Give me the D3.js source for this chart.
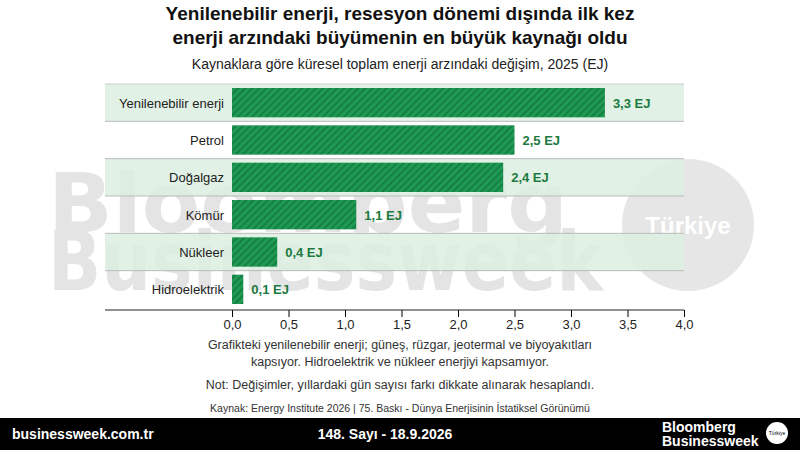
<!DOCTYPE html><html><head><meta charset="utf-8"><script src="https://cdn.jsdelivr.net/npm/d3@7"></script>
<style>body{margin:0;background:#fff}svg{font-family:"Liberation Sans",Arial,sans-serif}</style></head><body>
<svg id="c" width="800" height="450"></svg>
<script>
const categories=["Yenilenebilir enerji","Petrol","Doğalgaz","Kömür","Nükleer","Hidroelektrik"];
const values=[3.3,2.5,2.4,1.1,0.4,0.1];
const labels=["3,3 EJ","2,5 EJ","2,4 EJ","1,1 EJ","0,4 EJ","0,1 EJ"];
const ticks=[0,0.5,1,1.5,2,2.5,3,3.5,4];
const svg=d3.select("#c");
const defs=svg.append("defs");
const p=defs.append("pattern").attr("id","h").attr("patternUnits","userSpaceOnUse").attr("width",5).attr("height",5).attr("patternTransform","rotate(45)");
p.append("rect").attr("width",5).attr("height",5).attr("fill","#1f9a55");
p.append("rect").attr("width",1.6).attr("height",5).attr("fill","#137a3d");
// watermark
const wm=svg.append("g").attr("fill","#e4e4e4").attr("font-weight","bold").attr("font-size",82).attr("font-family","DejaVu Sans");
wm.append("text").attr("x",48).attr("y",232).text("Bloomberg").attr("textLength",520).attr("lengthAdjust","spacingAndGlyphs");
wm.append("text").attr("x",48).attr("y",290).text("Businessweek").attr("textLength",555).attr("lengthAdjust","spacingAndGlyphs");
wm.append("circle").attr("cx",688).attr("cy",225).attr("r",66).attr("fill","#e6e6e6");
wm.append("text").attr("x",688).attr("y",234).attr("text-anchor","middle").attr("font-size",24).attr("font-family","Liberation Sans").attr("fill","#fff").text("Türkiye");
// titles
svg.append("text").attr("x",400).attr("y",20).attr("text-anchor","middle").attr("font-weight","bold").attr("font-size",19).attr("fill","#111").text("Yenilenebilir enerji, resesyon dönemi dışında ilk kez");
svg.append("text").attr("x",400).attr("y",44).attr("text-anchor","middle").attr("font-weight","bold").attr("font-size",19).attr("fill","#111").text("enerji arzındaki büyümenin en büyük kaynağı oldu");
svg.append("text").attr("x",400).attr("y",69).attr("text-anchor","middle").attr("font-size",14).attr("fill","#222").text("Kaynaklara göre küresel toplam enerji arzındaki değişim, 2025 (EJ)");
const x=d3.scaleLinear().domain([0,4]).range([232,684]);
const y=d3.scaleBand().domain(categories).range([84,308]);
const g=svg.append("g");
categories.forEach((c,i)=>{
  if(i%2==0) g.append("rect").attr("x",105).attr("width",579).attr("y",y(c)).attr("height",y.bandwidth()).attr("fill","#dcefe0").attr("opacity",0.85);
  if(i>0) g.append("line").attr("x1",105).attr("x2",684).attr("y1",y(c)).attr("y2",y(c)).attr("stroke","#bbb");
});
g.append("line").attr("x1",105).attr("x2",684).attr("y1",84).attr("y2",84).attr("stroke","#ccc");
g.selectAll(".b").data(values).join("rect").attr("x",x(0)).attr("y",(d,i)=>y(categories[i])+4).attr("height",y.bandwidth()-8).attr("width",d=>x(d)-x(0)).attr("fill","url(#h)");
g.selectAll(".l").data(values).join("text").attr("x",d=>x(d)+8).attr("y",(d,i)=>y(categories[i])+y.bandwidth()/2+5).attr("font-size",13).attr("font-weight","bold").attr("fill","#1c7a40").text((d,i)=>labels[i]);
g.selectAll(".c").data(categories).join("text").attr("x",224).attr("y",c=>y(c)+y.bandwidth()/2+5).attr("text-anchor","end").attr("font-size",13).attr("fill","#222").text(c=>c);
const ax=svg.append("g").attr("transform","translate(0,310)").call(d3.axisBottom(x).tickValues(ticks).tickSize(7).tickFormat(d=>d3.format(".1f")(d).replace(".",",")));
ax.select(".domain").remove();
ax.append("line").attr("x1",105).attr("x2",684).attr("stroke","#222").attr("stroke-width",1.2);
ax.selectAll("text").attr("font-size",13).attr("fill","#222").attr("font-family","Liberation Sans");
const notes=[["Grafikteki yenilenebilir enerji; güneş, rüzgar, jeotermal ve biyoyakıtları",349,12.5],["kapsıyor. Hidroelektrik ve nükleer enerjiyi kapsamıyor.",366,12.5],["Not: Değişimler, yıllardaki gün sayısı farkı dikkate alınarak hesaplandı.",389,12.5],["Kaynak: Energy Institute 2026 | 75. Baskı - Dünya Enerjisinin İstatiksel Görünümü",412,10.5]];
notes.forEach(n=>svg.append("text").attr("x",400).attr("y",n[1]).attr("text-anchor","middle").attr("font-size",n[2]).attr("fill","#333").text(n[0]));
svg.append("rect").attr("x",0).attr("y",418).attr("width",800).attr("height",32).attr("fill","#000");
svg.append("text").attr("x",12).attr("y",439).attr("fill","#fff").attr("font-weight","bold").attr("font-size",14).text("businessweek.com.tr");
svg.append("text").attr("x",385).attr("y",439).attr("text-anchor","middle").attr("fill","#fff").attr("font-weight","bold").attr("font-size",14).text("148. Sayı - 18.9.2026");
svg.append("text").attr("x",662).attr("y",432).attr("fill","#fff").attr("font-weight","bold").attr("font-size",14).text("Bloomberg");
svg.append("text").attr("x",662).attr("y",446).attr("fill","#fff").attr("font-weight","bold").attr("font-size",14).text("Businessweek");
svg.append("circle").attr("cx",777).attr("cy",433).attr("r",11).attr("fill","#fff");
svg.append("text").attr("x",777).attr("y",435).attr("text-anchor","middle").attr("font-size",5).attr("fill","#000").text("Türkiye");
</script></body></html>
